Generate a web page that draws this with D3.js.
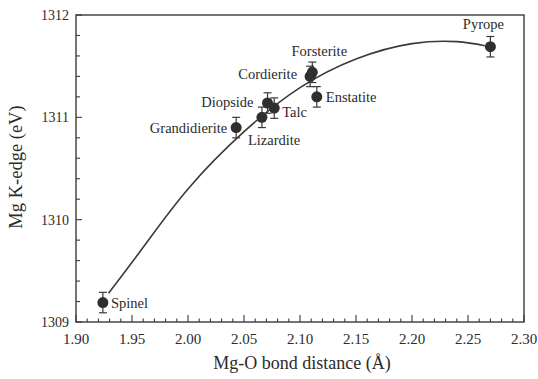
<!DOCTYPE html>
<html>
<head>
<meta charset="utf-8">
<script src="https://cdn.jsdelivr.net/npm/d3@7"></script>
<style>
  body { margin: 0; background: #fff; }
</style>
</head>
<body>
<div id="chart"></div>
<script>
// minerals: Mg-O distance (Å), Mg K-edge (eV), error (eV)
var names = ["Spinel", "Grandidierite", "Lizardite", "Diopside", "Talc", "Cordierite", "Forsterite", "Enstatite", "Pyrope"]
var distances = [1.924, 2.043, 2.066, 2.071, 2.077, 2.109, 2.111, 2.115, 2.27]
var edges = [1309.19, 1310.90, 1311.00, 1311.14, 1311.09, 1311.40, 1311.44, 1311.20, 1311.69]
var errors = [0.1, 0.1, 0.1, 0.1, 0.1, 0.1, 0.1, 0.1, 0.1]

// fitted curve
var fitX = [1.929, 1.96, 2.00, 2.05, 2.10, 2.15, 2.20, 2.24, 2.265]
var fitY = [1309.28, 1309.73, 1310.30, 1310.86, 1311.29, 1311.57, 1311.72, 1311.74, 1311.70]

var xTicks = [1.90, 1.95, 2.00, 2.05, 2.10, 2.15, 2.20, 2.25, 2.30]
var yTicks = [1309, 1310, 1311, 1312]

// label placement: [dx, dy, anchor]
var labelPos = {
  "Spinel": [8, 5, "start"],
  "Grandidierite": [-9, 5, "end"],
  "Lizardite": [-14, 28, "start"],
  "Diopside": [-14, 4, "end"],
  "Talc": [8, 9, "start"],
  "Cordierite": [-13, 3, "end"],
  "Forsterite": [7, -16, "middle"],
  "Enstatite": [9, 5, "start"],
  "Pyrope": [-7, -18, "middle"]
}

var W = 538, H = 379
var M = {TOP: 15, RIGHT: 14, BOTTOM: 57, LEFT: 76}
var FONT = "Liberation Serif"
var ink = "#3a3a3a"
var txt = "#2b2b2b"

var svg = d3.select("#chart").append("svg")
  .attr("width", W)
  .attr("height", H)

var x = d3.scaleLinear().domain([1.90, 2.30]).range([M.LEFT, W - M.RIGHT])
var y = d3.scaleLinear().domain([1309, 1312]).range([H - M.BOTTOM, M.TOP])

// frame
svg.append("rect")
  .attr("x", x(1.90)).attr("y", y(1312))
  .attr("width", x(2.30) - x(1.90)).attr("height", y(1309) - y(1312))
  .attr("fill", "none").attr("stroke", ink).attr("stroke-width", 1.4)

// x axis ticks (inward), minor every 0.01
var xMinor = d3.range(0, 41).map(function(i){ return 1.90 + i * 0.01 })
svg.append("g").selectAll("line")
  .data(xMinor)
  .enter().append("line")
  .attr("x1", function(d){ return x(d) }).attr("x2", function(d){ return x(d) })
  .attr("y1", y(1309))
  .attr("y2", function(d, i){ return y(1309) - (i % 5 == 0 ? 7 : 3.5) })
  .attr("stroke", ink).attr("stroke-width", 1.1)

svg.append("g").selectAll("text")
  .data(xTicks)
  .enter().append("text")
  .attr("x", function(d){ return x(d) })
  .attr("y", y(1309) + 22)
  .attr("text-anchor", "middle")
  .attr("font-family", FONT).attr("fill", txt)
  .style("font-size", "15px")
  .text(function(d){ return d.toFixed(2) })

// y axis ticks (inward), minor every 0.2
var yMinor = d3.range(0, 16).map(function(i){ return 1309 + i * 0.2 })
svg.append("g").selectAll("line")
  .data(yMinor)
  .enter().append("line")
  .attr("y1", function(d){ return y(d) }).attr("y2", function(d){ return y(d) })
  .attr("x1", x(1.90))
  .attr("x2", function(d, i){ return x(1.90) + (i % 5 == 0 ? 6 : 4) })
  .attr("stroke", ink).attr("stroke-width", 1.1)

svg.append("g").selectAll("text")
  .data(yTicks)
  .enter().append("text")
  .attr("x", x(1.90) - 7)
  .attr("y", function(d){ return y(d) + 5 })
  .attr("text-anchor", "end")
  .attr("font-family", FONT).attr("fill", txt)
  .style("font-size", "14px")
  .text(function(d){ return d })

// axis titles
svg.append("text")
  .attr("x", 302).attr("y", 369)
  .attr("text-anchor", "middle")
  .attr("font-family", FONT).attr("fill", txt)
  .style("font-size", "18px")
  .text("Mg-O bond distance  (Å)")

svg.append("text")
  .attr("transform", "translate(22," + 167 + ") rotate(-90)")
  .attr("text-anchor", "middle")
  .attr("font-family", FONT).attr("fill", txt)
  .style("font-size", "18.5px")
  .text("Mg K-edge (eV)")

// fit curve
var fit = fitX.map(function(d, i){ return [d, fitY[i]] })
svg.append("path")
  .datum(fit)
  .attr("d", d3.line()
    .x(function(d){ return x(d[0]) })
    .y(function(d){ return y(d[1]) })
    .curve(d3.curveNatural))
  .attr("fill", "none").attr("stroke", ink).attr("stroke-width", 1.6)

// points with error bars
var pts = names.map(function(n, i){ return {name: n, x: distances[i], y: edges[i], e: errors[i]} })

var g = svg.append("g").selectAll("g")
  .data(pts)
  .enter().append("g")

g.append("line")
  .attr("x1", function(d){ return x(d.x) }).attr("x2", function(d){ return x(d.x) })
  .attr("y1", function(d){ return y(d.y - d.e) }).attr("y2", function(d){ return y(d.y + d.e) })
  .attr("stroke", ink).attr("stroke-width", 1.2)

g.selectAll(".cap")
  .data(function(d){ return [d.y - d.e, d.y + d.e].map(function(v){ return {x: d.x, v: v} }) })
  .enter().append("line")
  .attr("class", "cap")
  .attr("x1", function(d){ return x(d.x) - 4 }).attr("x2", function(d){ return x(d.x) + 4 })
  .attr("y1", function(d){ return y(d.v) }).attr("y2", function(d){ return y(d.v) })
  .attr("stroke", ink).attr("stroke-width", 1.2)

g.append("circle")
  .attr("cx", function(d){ return x(d.x) })
  .attr("cy", function(d){ return y(d.y) })
  .attr("r", 5.5)
  .attr("fill", "#2f2f2f")

g.append("text")
  .attr("x", function(d){ return x(d.x) + labelPos[d.name][0] })
  .attr("y", function(d){ return y(d.y) + labelPos[d.name][1] })
  .attr("text-anchor", function(d){ return labelPos[d.name][2] })
  .attr("font-family", FONT).attr("fill", txt)
  .style("font-size", "14.5px")
  .text(function(d){ return d.name })
</script>
</body>
</html>
